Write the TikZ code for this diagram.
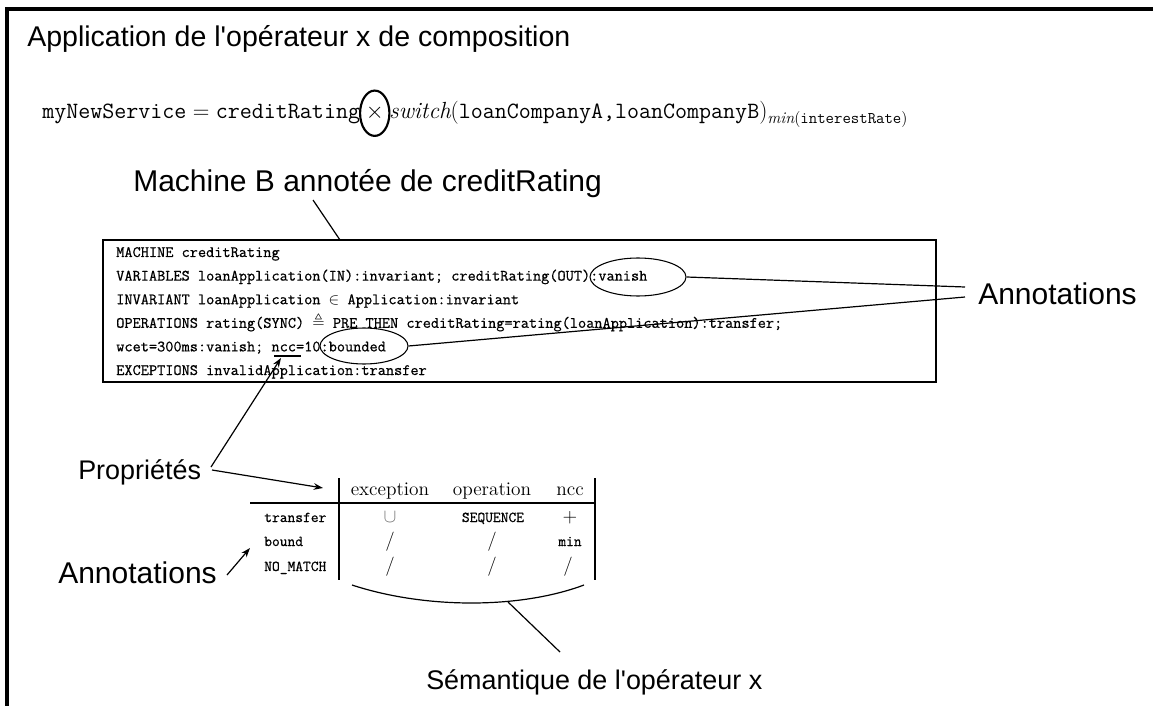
\documentclass[tikz,border=0pt]{standalone}
\usepackage{amsmath}
\usepackage{amssymb}
\usepackage{fontspec}
\newfontfamily\lab[Ligatures=TeXOff]{Liberation Sans}
\newfontfamily\ttb[FakeBold=0.7]{Latin Modern Mono}
\usetikzlibrary{arrows.meta,shapes.geometric}
\begin{document}
\begin{tikzpicture}[x=0.75pt,y=-0.75pt,
  lab/.style={font=\lab\fontsize{22.5}{27}\selectfont, inner sep=0pt, anchor=base west},
  labs/.style={font=\lab\fontsize{20.2}{24}\selectfont, inner sep=0pt, anchor=base west},
  boxtxt/.style={font=\ttb\fontsize{11.9}{14}\selectfont, inner sep=0pt, anchor=base west},
  frm/.style={font=\fontsize{17.5}{21}\selectfont, inner sep=0pt, anchor=base west},
  ttl/.style={font=\ttb\fontsize{11.3}{14}\selectfont, inner sep=0pt, anchor=base west},
  tcell/.style={font=\fontsize{14.5}{17}\selectfont, inner sep=0pt, anchor=base},
  ttcell/.style={font=\ttb\fontsize{11.3}{14}\selectfont, inner sep=0pt, anchor=base},
  conn/.style={line width=0.9pt},
  arr/.style={line width=0.9pt, -{Stealth[length=7pt,width=5pt]}},
  oval/.style={draw, ellipse, line width=0.8pt, inner sep=0pt},
  tline/.style={line width=1.1pt},
]
\useasboundingbox (0,0) rectangle (1153,706);
% frame
\draw[line width=2.3pt] (7,706) -- (7,9) -- (1153,9);

% title
\node[lab, font=\lab\fontsize{21.4}{26}\selectfont] (title) at (27,47) {Application de l'opérateur x de composition};

% formula
\node[frm] (f1) at (42,119) {$\texttt{myNewService} = \texttt{creditRating}$};
\node[frm] (fx) at ([xshift=3.9pt]f1.base east) {$\times$};
\node[frm] (f2) at ([xshift=3.9pt]fx.base east) {$\mathit{switch}(\texttt{loanCompanyA,loanCompanyB})_{\mathit{min}(\texttt{interestRate})}$};
\node[oval, line width=1.6pt, minimum width=22pt, minimum height=34pt] (cx) at (fx.center) {};

% machine label
\node[lab] (mlab) at (133,191) {Machine B annotée de creditRating};
\coordinate (m1) at (313,200);
\coordinate (m2) at (340,240);

% box
\node[draw, line width=1.1pt, inner sep=0pt, minimum width=624.75pt, minimum height=106.5pt] (box) at (519.5,311) {};
\node[boxtxt] (b1) at (116,257) {MACHINE creditRating};
\node[boxtxt] (b2) at (116,280.6) {VARIABLES loanApplication(IN):invariant; creditRating(OUT):vanish};
\node[boxtxt] (b3) at (116,304.2) {INVARIANT loanApplication $\in$ Application:invariant};
\node[boxtxt] (b4) at (116,327.8) {OPERATIONS rating(SYNC) $\triangleq$ PRE THEN creditRating=rating(loanApplication):transfer;};
\node[boxtxt] (b5) at (116,351.4) {wcet=300ms:vanish; ncc=10:bounded};
\node[boxtxt] (b6) at (116,375) {EXCEPTIONS invalidApplication:transfer};
\draw[line width=2.2pt] (274,356) -- (301,356);

\node[oval, minimum width=72pt, minimum height=28.5pt] (ev) at (638,277) {};
\node[oval, minimum width=66pt, minimum height=27pt] (eb) at (364,346) {};

% right annotations
\node[lab] (annR) at (978,304) {Annotations};
\coordinate (a1) at (965,287);
\coordinate (a2) at (965,297);

% proprietes
\node[labs] (prop) at (78,479) {Propriétés};
\coordinate (p0) at (211,467);
\coordinate (p1) at (212,470);
\coordinate (pn) at (281,358);
\coordinate (pt) at (323,488);

% table
\draw[tline] (339,478) -- (339,580);
\draw[tline] (595,478) -- (595,580);
\draw[tline] (250,503) -- (595,503);
\node[tcell] (h1) at (390,495) {exception};
\node[tcell] (h2) at (492,495) {operation};
\node[tcell] (h3) at (570,495) {ncc};
\node[ttl] (r1) at (264,522) {transfer};
\node[ttl] (r2) at (264,546) {bound};
\node[ttl] (r3) at (264,571) {NO\_MATCH};
\node[tcell, text=black!55] (c11) at (390,522) {$\cup$};
\node[ttcell] (c12) at (493,522) {SEQUENCE};
\node[tcell] (c13) at (570,522) {$+$};
\node[tcell] (c21) at (390,546) {$/$};
\node[tcell] (c22) at (492,546) {$/$};
\node[ttcell] (c23) at (570,546) {min};
\node[tcell] (c31) at (390,571) {$/$};
\node[tcell] (c32) at (492,571) {$/$};
\node[tcell] (c33) at (568,571) {$/$};

% left annotations
\node[lab] (annL) at (58,583) {Annotations};
\coordinate (l0) at (227,575);
\coordinate (l1) at (250,548);

% semantics
\coordinate (s0) at (352,585);
\coordinate (s1) at (584,585);
\coordinate (s2) at (508,602);
\coordinate (s3) at (560,652);
\node[labs] (sem) at (426,689) {Sémantique de l'opérateur x};

% connectors
\draw[conn] (m1) -- (m2);
\draw[conn] (ev.east) -- (a1);
\draw[conn] (eb.east) -- (a2);
\draw[arr] (p0) -- (pn);
\draw[arr] (p1) -- (pt);
\draw[arr] (l0) -- (l1);
\draw[conn] (s0) .. controls (425,609) and (520,609) .. (s1);
\draw[conn] (s2) -- (s3);
\end{tikzpicture}
\end{document}
